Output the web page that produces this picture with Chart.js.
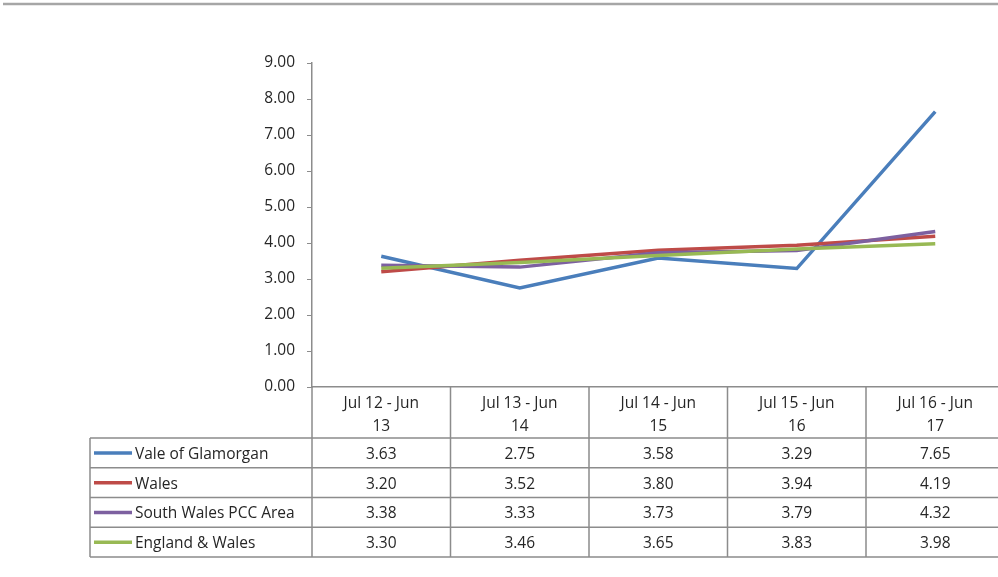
<!DOCTYPE html>
<html>
<head>
<meta charset="utf-8">
<script src="https://cdn.jsdelivr.net/npm/chart.js@4.4.1/dist/chart.umd.min.js"></script>
<style>
    html, body { margin: 0; padding: 0; background: #fff; overflow: hidden; }
    #linea { display: block; }
</style>
</head>
<body>
<canvas id="linea" width="1006" height="577"></canvas>
<script>
// Periodos (cada etiqueta en dos líneas, como en la tabla)
var periodos = [
    ["Jul 12 - Jun", "13"],
    ["Jul 13 - Jun", "14"],
    ["Jul 14 - Jun", "15"],
    ["Jul 15 - Jun", "16"],
    ["Jul 16 - Jun", "17"]
];

// Nombres de las series y sus valores
var series = ["Vale of Glamorgan", "Wales", "South Wales PCC Area", "England & Wales"];
var valeGlamorgan = [3.63, 2.75, 3.58, 3.29, 7.65];
var wales = [3.20, 3.52, 3.80, 3.94, 4.19];
var southWales = [3.38, 3.33, 3.73, 3.79, 4.32];
var englandWales = [3.30, 3.46, 3.65, 3.83, 3.98];
var valores = [valeGlamorgan, wales, southWales, englandWales];

var colores = ["#4A7EBB", "#BE4B48", "#7D60A0", "#98B954"];

// Eje Y
var ejeMin = 0;
var ejeMax = 9;
var ejePaso = 1;

var fuente = "'Open Sans', 'Liberation Sans', sans-serif";
var tamFuente = 15.5;
var colorTexto = "#262626";
var colorRejilla = "#8c8c8c";


/**
 * Plugin que dibuja la tabla de datos bajo el eje X y la línea gris superior
 */
var tablaDatos = {
    id: "tablaDatos",
    afterDraw: function (chart) {
        var ctx = chart.ctx;
        var ejeX = chart.scales.x;
        var area = chart.chartArea;
        var ancho = ejeX.getPixelForValue(1) - ejeX.getPixelForValue(0);

        // Bordes de las columnas
        var bordes = [];
        for (var i = 0; i <= periodos.length; i++) {
            bordes.push(ejeX.getPixelForValue(i) - ancho / 2);
        }

        var altoCabecera = 51;
        var altoFila = 29.75;
        var izquierda = 90;
        var yCab = area.bottom;
        var yFilas = [];
        for (var f = 0; f <= series.length; f++) {
            yFilas.push(yCab + altoCabecera + f * altoFila);
        }
        var derecha = bordes[bordes.length - 1];

        ctx.save();

        // línea gris de arriba
        ctx.strokeStyle = "#a6a6a6";
        ctx.lineWidth = 2.5;
        ctx.beginPath();
        ctx.moveTo(3, 4);
        ctx.lineTo(chart.width, 4);
        ctx.stroke();

        // Rejilla de la tabla
        ctx.strokeStyle = colorRejilla;
        ctx.lineWidth = 1.5;
        ctx.beginPath();
        for (var c = 0; c < bordes.length; c++) {
            ctx.moveTo(bordes[c], yCab);
            ctx.lineTo(bordes[c], yFilas[yFilas.length - 1]);
        }
        for (var r = 0; r < yFilas.length; r++) {
            ctx.moveTo(izquierda, yFilas[r]);
            ctx.lineTo(derecha, yFilas[r]);
        }
        ctx.moveTo(izquierda, yFilas[0]);
        ctx.lineTo(izquierda, yFilas[yFilas.length - 1]);
        ctx.stroke();

        // Cabecera con los periodos
        ctx.fillStyle = colorTexto;
        ctx.font = tamFuente + "px " + fuente;
        ctx.textAlign = "center";
        ctx.textBaseline = "middle";
        for (var p = 0; p < periodos.length; p++) {
            var xc = ejeX.getPixelForValue(p);
            ctx.fillText(periodos[p][0], xc, yCab + 16.5);
            ctx.fillText(periodos[p][1], xc, yCab + 39.5);
        }

        // Filas: clave de color, nombre y valores
        for (var s = 0; s < series.length; s++) {
            var ym = (yFilas[s] + yFilas[s + 1]) / 2;
            ctx.strokeStyle = colores[s];
            ctx.lineWidth = 3.5;
            ctx.beginPath();
            ctx.moveTo(94, ym);
            ctx.lineTo(132, ym);
            ctx.stroke();

            ctx.fillStyle = colorTexto;
            ctx.textAlign = "left";
            ctx.fillText(series[s], 135, ym + 1.5);

            ctx.textAlign = "center";
            for (var v = 0; v < valores[s].length; v++) {
                ctx.fillText(valores[s][v].toFixed(2), ejeX.getPixelForValue(v), ym + 1.5);
            }
        }
        ctx.restore();
    }
};


/**
 * Función para generar el gráfico de línea
 */
function cargaGraficoLinea() {
    var datasets = [];
    for (var i = 0; i < series.length; i++) {
        datasets.push({
            label: series[i],
            data: valores[i],
            borderColor: colores[i],
            backgroundColor: colores[i],
            borderWidth: 3.5,
            pointRadius: 0,
            tension: 0,
            order: series.length - i
        });
    }

    var config = {
        type: "line",
        data: {
            labels: periodos,
            datasets: datasets
        },
        options: {
            responsive: false,
            animation: false,
            layout: {
                padding: { top: 63, bottom: 190, left: 0, right: 1.5 }
            },
            plugins: {
                legend: { display: false },
                tooltip: { enabled: false }
            },
            scales: {
                x: {
                    offset: true,
                    grid: { display: false },
                    ticks: { display: false },
                    border: { color: colorRejilla, width: 1.5 },
                    afterFit: function (s) { s.height = 0; }
                },
                y: {
                    min: ejeMin,
                    max: ejeMax,
                    grid: {
                        drawOnChartArea: false,
                        tickLength: 5,
                        color: colorRejilla
                    },
                    border: { color: colorRejilla, width: 1.5 },
                    ticks: {
                        stepSize: ejePaso,
                        padding: 12,
                        color: colorTexto,
                        font: { family: fuente, size: tamFuente },
                        callback: function (v) { return v.toFixed(2); }
                    },
                    afterFit: function (s) { s.width = 312; }
                }
            }
        },
        plugins: [tablaDatos]
    };

    var grafico = document.getElementById("linea").getContext("2d");
    new Chart(grafico, config);
}

cargaGraficoLinea();
</script>
</body>
</html>
